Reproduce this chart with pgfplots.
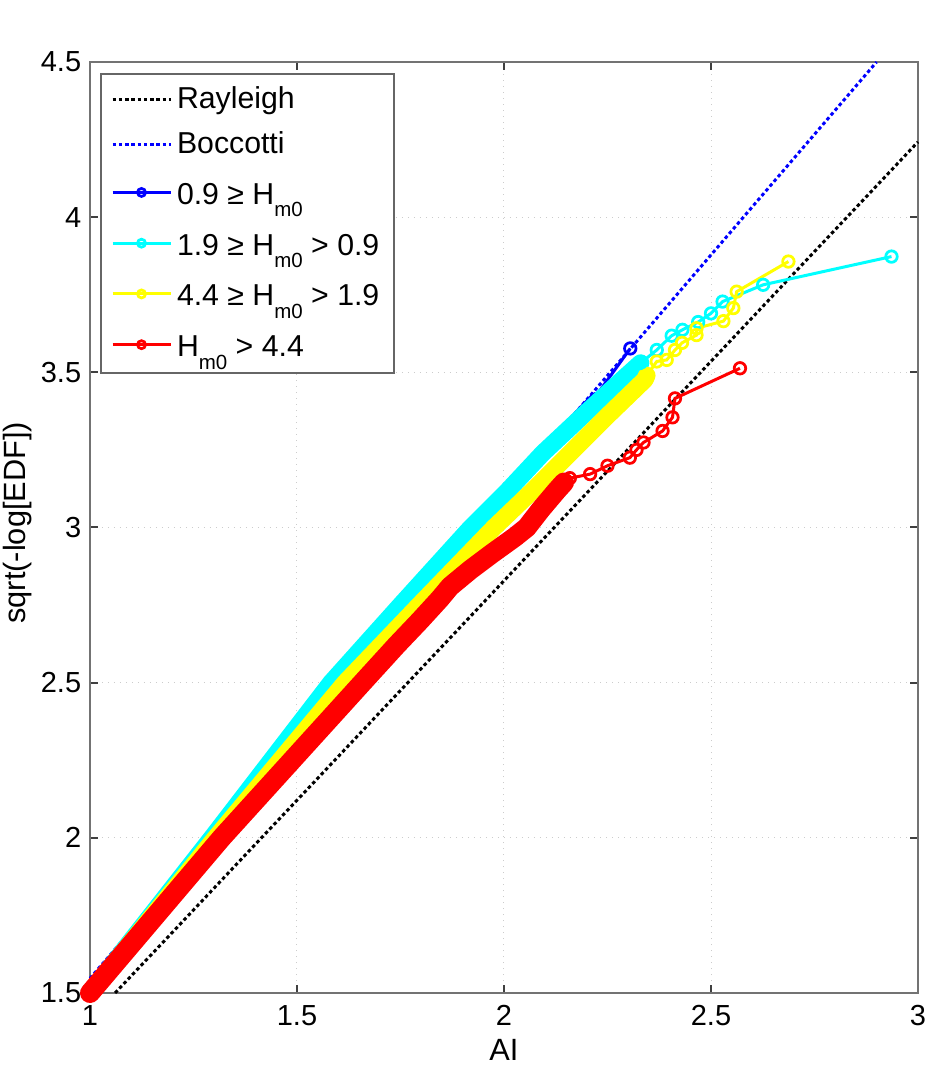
\documentclass[border=0pt]{standalone}
\usepackage{fontspec}
\setmainfont{Liberation Sans}
\usepackage{pgfplots}
\pgfplotsset{compat=1.18}

\definecolor{mcyan}{rgb}{0,1,1}
\definecolor{myellow}{rgb}{1,1,0}
\newcommand\sub[1]{\raisebox{-5pt}{\fontsize{8.2}{9}\selectfont #1}\rule[-10.6pt]{0pt}{21.6pt}}

% 1 px of the reference = 0.4pt
\pgfplotsset{
  band/.style={line width=#1, line cap=round, line join=round, forget plot},
  obs/.style={line width=1.2pt, mark=o, mark size=2.3pt, mark options={solid, line width=1.1pt}},
  theory/.style={line width=1.2pt, dash pattern=on 1.4pt off 1.1pt},
}

\begin{document}
\begin{tikzpicture}
\begin{axis}[
    scale only axis,
    width=331.2pt, height=372.4pt,
    xmin=1, xmax=3, ymin=1.5, ymax=4.5,
    xtick={1,1.5,2,2.5,3},
    ytick={1.5,2,2.5,3,3.5,4,4.5},
    clip=false,
    axis line style={black!55, line width=0.8pt},
    tick style={black!75, line width=0.8pt},
    major tick length=3.2pt,
    tick align=inside,
    grid=major,
    grid style={black!20, dotted, line width=0.4pt},
    /pgf/number format/assume math mode=true,
    tick label style={font=\fontsize{11.6}{13}\selectfont},
    xticklabel style={yshift=-1.5pt},
    xlabel={AI}, ylabel={sqrt(-log[EDF])},
    label style={font=\fontsize{12.3}{14}\selectfont, inner sep=0pt},
    xlabel style={at={(axis description cs:0.5,-0.0612)}, anchor=center},
    ylabel style={at={(axis description cs:-0.088,0.505)}, anchor=center},
    legend style={at={(axis description cs:0.0121,0.9882)}, anchor=north west,
        draw=black!60, line width=0.8pt, fill=white,
        font=\fontsize{12.1}{14}\selectfont,
        row sep=3.8pt, inner xsep=4pt, inner ysep=3pt},
    legend cell align=left,
    legend image code/.code={\draw[mark repeat=2,mark phase=2, mark size=1.6pt]
        plot coordinates {(0pt,0pt) (11.6pt,0pt) (23.2pt,0pt)};},
]

\addplot[theory, black] coordinates {(1.0607,1.5) (3,4.2426)};
\addlegendentry{Rayleigh}
\addplot[theory, blue] coordinates {(1,1.547) (2.9,4.5)};
\addlegendentry{Boccotti}

% 0.9 >= Hm0
\addplot[band=4pt, blue] coordinates {
  (1,1.5) (1.29,2.0) (1.58,2.5) (1.92,3.0) (2.10,3.25) (2.22,3.42)};
\addplot[obs, blue, mark indices={2}] coordinates {(2.22,3.42) (2.305,3.577)};
\addlegendentry{0.9 ≥ H\sub{m0}}

% 1.9 >= Hm0 > 0.9
\addplot[band=7pt, mcyan] coordinates {
  (1,1.5) (1.294,2.0) (1.582,2.5) (1.75,2.75) (1.92,3.0) (2.01,3.12)
  (2.094,3.24) (2.19,3.36) (2.285,3.476) (2.33,3.53)};
\addplot[obs, mcyan] coordinates {
  (2.33,3.53) (2.369,3.572) (2.405,3.618) (2.431,3.637) (2.469,3.662)
  (2.500,3.690) (2.528,3.728) (2.626,3.782) (2.936,3.873)};
\addlegendentry{1.9 ≥ H\sub{m0} > 0.9}

% 4.4 >= Hm0 > 1.9
\addplot[band=7pt, myellow] coordinates {
  (1,1.5) (1.303,2.0) (1.616,2.5) (1.795,2.75) (1.976,3.0) (2.07,3.12)
  (2.16,3.24) (2.25,3.36) (2.34,3.476) (2.345,3.49)};
\addplot[obs, myellow] coordinates {
  (2.345,3.49) (2.369,3.535) (2.393,3.540) (2.413,3.572) (2.430,3.595)
  (2.465,3.620) (2.465,3.642) (2.530,3.665) (2.554,3.707) (2.562,3.760)
  (2.687,3.857)};
\addlegendentry{4.4 ≥ H\sub{m0} > 1.9}

% Hm0 > 4.4
\addplot[band=8pt, red] coordinates {
  (1,1.5) (1.318,2.0) (1.658,2.5) (1.74,2.62) (1.797,2.70) (1.845,2.77)
  (1.87,2.81) (1.918,2.863) (1.973,2.918) (2.027,2.97) (2.055,3.0)
  (2.09,3.06) (2.128,3.12) (2.145,3.145)};
\addplot[obs, red] coordinates {
  (2.145,3.145) (2.159,3.159) (2.208,3.172) (2.250,3.199) (2.304,3.225)
  (2.320,3.250) (2.337,3.274) (2.383,3.311) (2.407,3.355) (2.413,3.416)
  (2.570,3.513)};
\addlegendentry{H\sub{m0} > 4.4}

\end{axis}
\path ([shift={(-36pt,-28.8pt)}]current axis.south west)
  rectangle ([shift={(4.8pt,24.8pt)}]current axis.north east);
\end{tikzpicture}
\end{document}
